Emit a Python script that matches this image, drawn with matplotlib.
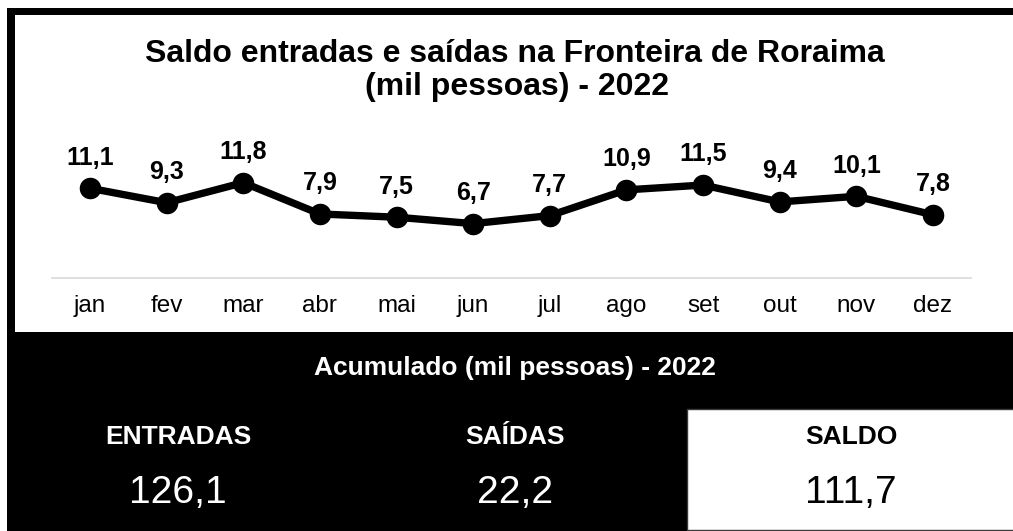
import matplotlib
matplotlib.use("Agg")
import matplotlib.pyplot as plt
from matplotlib.patches import Rectangle

# ---- data ----
months = ["jan", "fev", "mar", "abr", "mai", "jun", "jul", "ago", "set", "out", "nov", "dez"]
saldo = [11.1, 9.3, 11.8, 7.9, 7.5, 6.7, 7.7, 10.9, 11.5, 9.4, 10.1, 7.8]
title_lines = ["Saldo entradas e saídas na Fronteira de Roraima", "(mil pessoas) - 2022"]
summary_title = "Acumulado (mil pessoas) - 2022"
summary_labels = ["ENTRADAS", "SAÍDAS", "SALDO"]
summary_values = [126.1, 22.2, 111.7]

FONT = "Liberation Sans"
W, H = 1013, 531
DPI = 100

def fx(px):
    return px / W

def fy(py):
    return 1 - py / H

def br(v):
    return f"{v:.1f}".replace(".", ",")

fig = plt.figure(figsize=(W / DPI, H / DPI), dpi=DPI)
fig.patch.set_facecolor("white")

def rect(x0, y0, x1, y1, fc, ec="none", lw=0):
    r = Rectangle((fx(x0), fy(y1)), fx(x1) - fx(x0), fy(y0) - fy(y1),
                  transform=fig.transFigure, facecolor=fc, edgecolor=ec,
                  linewidth=lw, zorder=0.5)
    fig.patches.append(r)

# frame
rect(7, 8, W, 15, "black")
rect(7, 8, 15, 333, "black")
rect(7, 332, W, H, "black")
rect(687, 409, W + 5, 530, "white", ec="#3a3a3a", lw=1)

# ---- line chart ----
px_per_unit = 8.04
ytop = 14
left, right = 51.7, 971.3
bottom = 277.5
top = bottom - ytop * px_per_unit
ax = fig.add_axes([fx(left), fy(bottom), fx(right) - fx(left), fy(top) - fy(bottom)])
ax.set_zorder(2)
ax.patch.set_visible(False)
x = list(range(len(months)))
ax.plot(x, saldo, color="black", linewidth=5.3, marker="o", markersize=14.5,
        solid_joinstyle="round", clip_on=False)
for xi, v in zip(x, saldo):
    ax.annotate(br(v), (xi, v), xytext=(0, 17), textcoords="offset points",
                ha="center", va="baseline", fontsize=18, fontweight="bold",
                family=FONT, color="black", annotation_clip=False)
ax.set_xlim(-0.5, len(months) - 0.5)
ax.set_ylim(0, ytop)
ax.set_yticks([])
ax.set_xticks(x)
ax.set_xticklabels(months, family=FONT, fontsize=17.5)
ax.tick_params(axis="x", length=0, pad=12.5)
for s in ["top", "left", "right"]:
    ax.spines[s].set_visible(False)
ax.spines["bottom"].set_color("#d9d9d9")
ax.spines["bottom"].set_linewidth(1.2)

# ---- title ----
fig.text(fx(515), fy(62), title_lines[0], ha="center", va="baseline",
         fontsize=23, fontweight="bold", family=FONT)
fig.text(fx(517), fy(95), title_lines[1], ha="center", va="baseline",
         fontsize=23, fontweight="bold", family=FONT)

# ---- summary ----
fig.text(fx(515), fy(375), summary_title, ha="center", va="baseline",
         fontsize=19, fontweight="bold", family=FONT, color="white")
centers = [178, 515, 851]
colors = ["white", "white", "black"]
for cx, lab, val, c in zip(centers, summary_labels, summary_values, colors):
    fig.text(fx(cx), fy(444), lab, ha="center", va="baseline",
             fontsize=19, fontweight="bold", family=FONT, color=c)
    fig.text(fx(cx), fy(503), br(val), ha="center", va="baseline",
             fontsize=28, family=FONT, color=c)

fig.savefig("out.png", dpi=DPI)
